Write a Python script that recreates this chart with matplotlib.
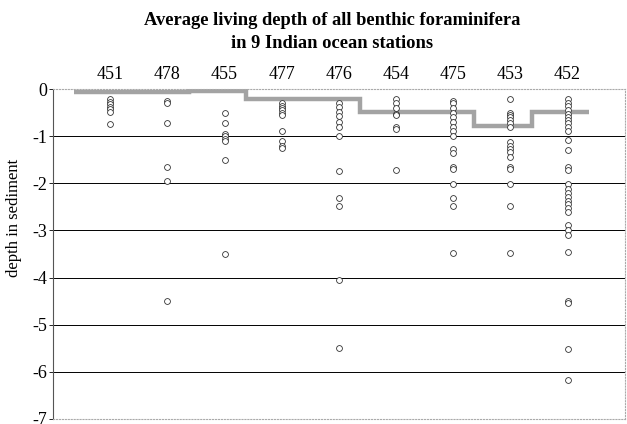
import numpy as np
import matplotlib
matplotlib.use("Agg")
import matplotlib.pyplot as plt

stations = ["451", "478", "455", "477", "476", "454", "475", "453", "452"]

# average living depth per station (step line)
avg_depth = [-0.06, -0.06, -0.04, -0.21, -0.21, -0.48, -0.48, -0.78, -0.48]

# individual living depths per station
depths_451 = [-0.22, -0.27, -0.32, -0.38, -0.43, -0.49, -0.74]
depths_478 = [-0.25, -0.3, -0.72, -1.65, -1.95, -4.5]
depths_455 = [-0.5, -0.73, -0.95, -1.0, -1.05, -1.1, -1.5, -3.5]
depths_477 = [-0.3, -0.35, -0.4, -0.45, -0.5, -0.55, -0.9, -1.1, -1.2, -1.25]
depths_476 = [-0.3, -0.38, -0.49, -0.58, -0.7, -0.81, -1.0, -1.73, -2.32, -2.48,
              -4.05, -5.5]
depths_454 = [-0.22, -0.3, -0.4, -0.52, -0.55, -0.8, -0.85, -1.72]
depths_475 = [-0.25, -0.3, -0.4, -0.5, -0.6, -0.7, -0.8, -0.9, -1.0, -1.27,
              -1.35, -1.65, -1.7, -2.02, -2.32, -2.48, -3.48]
depths_453 = [-0.22, -0.51, -0.56, -0.6, -0.66, -0.73, -0.81, -1.13, -1.2,
              -1.27, -1.34, -1.45, -1.65, -1.7, -2.02, -2.48, -3.48]
depths_452 = [-0.22, -0.3, -0.37, -0.45, -0.52, -0.6, -0.66, -0.73, -0.8, -0.9,
              -1.08, -1.29, -1.65, -1.72, -2.02, -2.13, -2.2, -2.29, -2.38,
              -2.45, -2.52, -2.6, -2.88, -3.0, -3.09, -3.45, -4.5, -4.55,
              -5.52, -6.18]

all_depths = [depths_451, depths_478, depths_455, depths_477, depths_476,
              depths_454, depths_475, depths_453, depths_452]

plt.rcParams["font.family"] = ["Liberation Serif", "DejaVu Serif"]

fig = plt.figure(figsize=(6.27, 4.24), dpi=100)
ax = fig.add_axes([0.0845, 0.012, 0.912, 0.778])

pos = np.arange(1, len(stations) + 1)

# horizontal grid lines
for y in range(-6, 0):
    ax.axhline(y, color="black", lw=0.7, zorder=1)

# average depth as steps
edges = np.arange(len(stations) + 1) + 0.37
ax.stairs(avg_depth, edges, baseline=None, color="#a3a3a3", lw=3.2, zorder=2)

for p, d in zip(pos, all_depths):
    ax.plot(np.full(len(d), p), d, ls="none", marker="o", ms=4.2,
            mfc="white", mec="#333333", mew=0.6, zorder=3)

ax.set_xlim(0, 10)
ax.set_ylim(-7, 0)
ax.set_yticks(range(-7, 1))
ax.set_yticklabels([str(v) for v in range(-7, 1)], fontsize=13)
ax.set_xticks(pos)
ax.set_xticklabels(stations, fontsize=13)
ax.xaxis.tick_top()
ax.tick_params(axis="x", length=0, pad=4)
ax.tick_params(axis="y", length=3, width=0.6, pad=1)

ax.spines["left"].set_color("#555555")
ax.spines["left"].set_linewidth(0.8)
for s in ["top", "bottom", "right"]:
    ax.spines[s].set_color("#aaaaaa")
    ax.spines[s].set_linestyle(":")
    ax.spines[s].set_linewidth(0.8)

ax.set_ylabel("depth in sediment", fontsize=12)
ax.yaxis.set_label_coords(-0.054, 0.61)

fig.text(0.53, 0.925, "Average living depth of all benthic foraminifera\nin 9 Indian ocean stations",
         ha="center", va="center", fontsize=13.3, fontweight="bold", linespacing=1.45)

fig.savefig("out.png", dpi=100)
